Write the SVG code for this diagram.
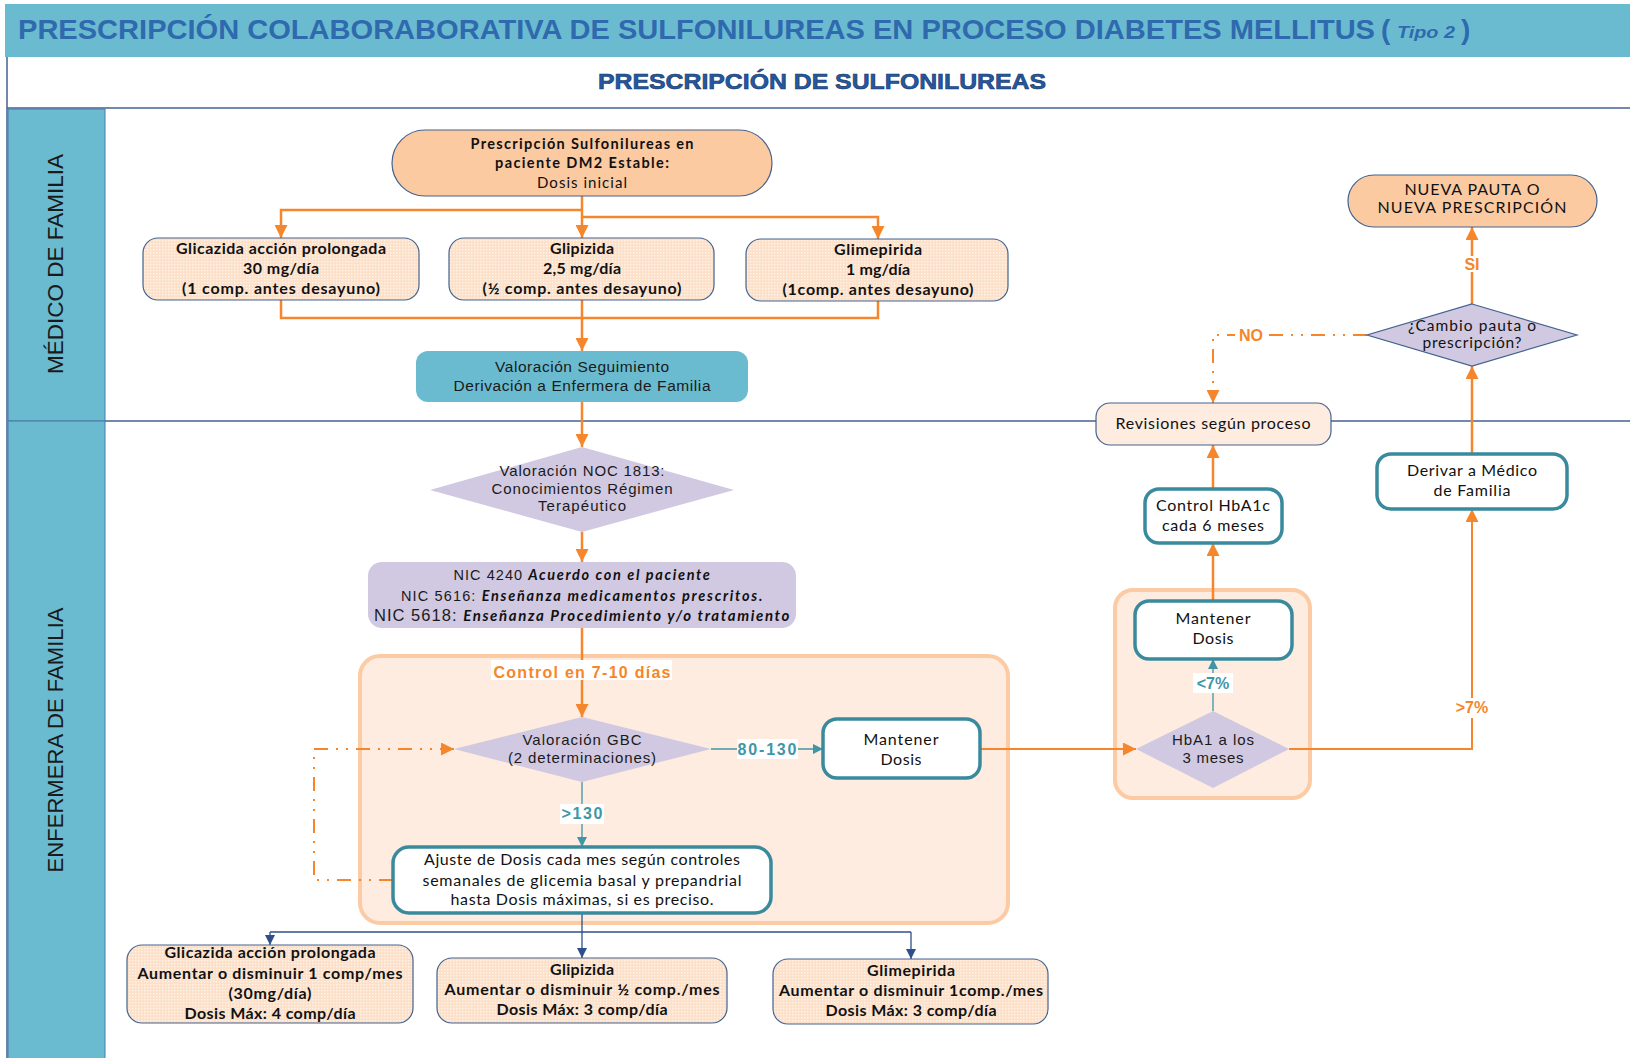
<svg xmlns="http://www.w3.org/2000/svg" width="1630" height="1058" viewBox="0 0 1630 1058">
  <defs>
    <style>
      .lbl { font-family: "Liberation Sans", Arial, sans-serif; fill: #1a1a1a; }
      .cal { font-family: Lato, "Liberation Sans", sans-serif; fill: #111111; }
      .b { font-weight: bold; }
      .or { stroke: #F5862B; stroke-width: 2.5; fill: none; }
      .orthin { stroke: #F5862B; stroke-width: 2; fill: none; }
      .dd { stroke: #F5862B; stroke-width: 2; fill: none; stroke-dasharray: 14 8 2 8 2 8; }
      .tl { stroke: #3F96A6; stroke-width: 1.3; fill: none; }
      .bl { stroke: #2E4F8A; stroke-width: 1.3; fill: none; }
      .peach { fill: #FBCAA1; stroke: #44628F; stroke-width: 1.2; }
      .soft { fill: url(#dots); stroke: #44628F; stroke-width: 1.2; }
      .teal { fill: #ffffff; stroke: #3A8A9E; stroke-width: 3.5; }
      .lav { fill: #D1C9E1; }
      .zone { fill: #FDECDF; stroke: #FCCBA4; stroke-width: 4; }
      .tag { font-family: "Liberation Sans", Arial, sans-serif; font-weight: bold; font-size: 16px; }
    </style>
    <pattern id="dots" width="3" height="3" patternUnits="userSpaceOnUse">
      <rect width="3" height="3" fill="#FCE0C9"/>
      <rect x="0" y="0" width="1.4" height="1.4" fill="#FFF4EA"/>
    </pattern>
    <marker id="ao" viewBox="0 0 10 10" refX="10" refY="5" markerWidth="14" markerHeight="13" markerUnits="userSpaceOnUse" orient="auto">
      <path d="M0,0 L10,5 L0,10 z" fill="#F5862B"/>
    </marker>
    <marker id="at" viewBox="0 0 10 10" refX="10" refY="5" markerWidth="10" markerHeight="10" markerUnits="userSpaceOnUse" orient="auto">
      <path d="M0,0 L10,5 L0,10 z" fill="#3F96A6"/>
    </marker>
    <marker id="ab" viewBox="0 0 10 10" refX="10" refY="5" markerWidth="11" markerHeight="10" markerUnits="userSpaceOnUse" orient="auto">
      <path d="M0,0 L10,5 L0,10 z" fill="#2E4F8A"/>
    </marker>
  </defs>

  <rect x="0" y="0" width="1630" height="1058" fill="#ffffff"/>

  <!-- Header band and title -->
  <g id="header">
    <rect x="5" y="4" width="1625" height="53" fill="#6BBBD0"/>
    <text x="18" y="39" font-family="'Liberation Sans', Arial, sans-serif" font-weight="bold" font-size="28" fill="#2F6AAE" textLength="1357" lengthAdjust="spacingAndGlyphs">PRESCRIPCIÓN COLABORABORATIVA DE SULFONILUREAS EN PROCESO DIABETES MELLITUS</text>
    <text x="1381" y="39" font-family="'Liberation Sans', Arial, sans-serif" font-weight="bold" font-size="28" fill="#2F6AAE">(</text>
    <text x="1397" y="38" font-family="'Liberation Sans', Arial, sans-serif" font-weight="bold" font-style="italic" font-size="17" fill="#2F6AAE" textLength="58" lengthAdjust="spacingAndGlyphs">Tipo 2</text>
    <text x="1461" y="39" font-family="'Liberation Sans', Arial, sans-serif" font-weight="bold" font-size="28" fill="#2F6AAE">)</text>
    <text x="822" y="89" text-anchor="middle" font-family="'Liberation Sans', Arial, sans-serif" font-weight="bold" font-size="22" fill="#2458A4" stroke="#17375E" stroke-width="0.6" textLength="448" lengthAdjust="spacingAndGlyphs">PRESCRIPCIÓN DE SULFONILUREAS</text>
  </g>

  <!-- Swimlanes -->
  <g id="lanes">
    <line x1="7" y1="57" x2="7" y2="1058" stroke="#44628F" stroke-width="1.5"/>
    <line x1="7" y1="108" x2="1630" y2="108" stroke="#44628F" stroke-width="1.3"/>
    <line x1="105" y1="421" x2="1630" y2="421" stroke="#44628F" stroke-width="1.3"/>
    <rect x="8" y="109" width="97" height="312" fill="#6BBBD0" stroke="#4A78AA" stroke-width="1"/>
    <rect x="8" y="421" width="97" height="640" fill="#6BBBD0" stroke="#4A78AA" stroke-width="1"/>
    <text transform="translate(63,264) rotate(-90)" text-anchor="middle" class="lbl" font-size="22" textLength="220" lengthAdjust="spacingAndGlyphs">MÉDICO  DE FAMILIA</text>
    <text transform="translate(63,740) rotate(-90)" text-anchor="middle" class="lbl" font-size="22" textLength="265" lengthAdjust="spacingAndGlyphs">ENFERMERA DE FAMILIA</text>
  </g>

  <!-- Grouping zones -->
  <g id="zone-control">
    <rect class="zone" x="360" y="656" width="648" height="267" rx="20"/>
  </g>
  <g id="zone-hba1">
    <rect class="zone" x="1115" y="590" width="195" height="208" rx="18"/>
  </g>

  <!-- Connectors -->
  <g id="connectors">
    <path class="or" d="M582 196 V238" marker-end="url(#ao)"/>
    <path class="or" d="M582 210 H281 V238" marker-end="url(#ao)"/>
    <path class="or" d="M582 217 H878 V239" marker-end="url(#ao)"/>
    <path class="or" d="M281 300 V318 H878 V301"/>
    <path class="or" d="M582 300 V351" marker-end="url(#ao)"/>
    <path class="or" d="M582 402 V447" marker-end="url(#ao)"/>
    <path class="or" d="M582 532 V562" marker-end="url(#ao)"/>
    <path class="or" d="M582 628 V717" marker-end="url(#ao)"/>
    <path class="dd" d="M393 880 H314 V749 H454" marker-end="url(#ao)"/>
    <path class="tl" d="M711 749 H823" marker-end="url(#at)"/>
    <path class="tl" d="M582 782 V847" marker-end="url(#at)"/>
    <path class="bl" d="M582 913 V958" marker-end="url(#ab)"/>
    <path class="bl" d="M270 932 H911"/>
    <path class="bl" d="M270 932 V945" marker-end="url(#ab)"/>
    <path class="bl" d="M911 932 V959" marker-end="url(#ab)"/>
    <path class="orthin" d="M980 749 H1136" marker-end="url(#ao)"/>
    <path class="tl" d="M1213 711 V659" marker-end="url(#at)"/>
    <path class="or" d="M1213 601 V543" marker-end="url(#ao)"/>
    <path class="or" d="M1213 489 V445" marker-end="url(#ao)"/>
    <path class="orthin" d="M1289 749 H1472 V509" marker-end="url(#ao)"/>
    <path class="or" d="M1472 454 V366" marker-end="url(#ao)"/>
    <path class="or" d="M1472 304 V227" marker-end="url(#ao)"/>
    <path class="dd" d="M1367 335 H1213 V403" marker-end="url(#ao)"/>

    <!-- connector labels -->
    <rect x="491" y="660" width="181" height="20" fill="#ffffff"/>
    <text x="582" y="678" text-anchor="middle" class="tag" fill="#F5862B" textLength="177">Control en 7-10 días</text>
    <rect x="737" y="739" width="61" height="20" fill="#ffffff"/>
    <text x="767" y="755" text-anchor="middle" class="tag" fill="#3F96A6" font-size="17" textLength="59">80-130</text>
    <rect x="560" y="804" width="44" height="20" fill="#ffffff"/>
    <text x="582" y="819" text-anchor="middle" class="tag" fill="#3F96A6" font-size="17" textLength="41">&gt;130</text>
    <rect x="1193" y="673" width="40" height="20" fill="#ffffff"/>
    <text x="1213" y="689" text-anchor="middle" class="tag" fill="#3F96A6" font-size="17.5">&lt;7%</text>
    <rect x="1451" y="698" width="42" height="20" fill="#ffffff"/>
    <text x="1472" y="713" text-anchor="middle" class="tag" fill="#F5862B" font-size="17.5">&gt;7%</text>
    <rect x="1464" y="256" width="16" height="16" fill="#ffffff"/>
    <text x="1472" y="270" text-anchor="middle" class="tag" fill="#F5862B" font-size="14">SI</text>
    <rect x="1235" y="326" width="31" height="18" fill="#ffffff"/>
    <text x="1251" y="341" text-anchor="middle" class="tag" fill="#F5862B" font-size="16">NO</text>
  </g>

  <!-- Physician lane nodes -->
  <g id="n-start">
    <rect class="peach" x="392" y="130" width="380" height="66" rx="33"/>
    <text x="582" y="149" text-anchor="middle" class="cal b" font-size="14.5" textLength="223">Prescripción Sulfonilureas en</text>
    <text x="582" y="168" text-anchor="middle" class="cal b" font-size="14.5" textLength="174">paciente DM2 Estable:</text>
    <text x="582" y="188" text-anchor="middle" class="cal" font-size="15" textLength="90">Dosis inicial</text>
  </g>

  <g id="n-glicazida">
    <rect class="soft" x="143" y="238" width="276" height="62" rx="15"/>
    <text x="281" y="254" text-anchor="middle" class="cal b" font-size="16" textLength="210">Glicazida acción prolongada</text>
    <text x="281" y="274" text-anchor="middle" class="cal b" font-size="16" textLength="76">30 mg/día</text>
    <text x="281" y="294" text-anchor="middle" class="cal b" font-size="16" textLength="198">(1 comp.  antes desayuno)</text>
  </g>

  <g id="n-glipizida">
    <rect class="soft" x="449" y="238" width="265" height="62" rx="15"/>
    <text x="582" y="254" text-anchor="middle" class="cal b" font-size="16" textLength="64">Glipizida</text>
    <text x="582" y="274" text-anchor="middle" class="cal b" font-size="16" textLength="78">2,5 mg/día</text>
    <text x="582" y="294" text-anchor="middle" class="cal b" font-size="16" textLength="199">(½ comp. antes desayuno)</text>
  </g>

  <g id="n-glimepirida">
    <rect class="soft" x="746" y="239" width="262" height="62" rx="15"/>
    <text x="878" y="255" text-anchor="middle" class="cal b" font-size="16" textLength="88">Glimepirida</text>
    <text x="878" y="275" text-anchor="middle" class="cal b" font-size="16" textLength="64">1 mg/día</text>
    <text x="878" y="295" text-anchor="middle" class="cal b" font-size="16" textLength="191">(1comp. antes desayuno)</text>
  </g>

  <g id="n-seguimiento">
    <rect x="416" y="351" width="332" height="51" rx="12" fill="#6BBBD0"/>
    <text x="582" y="372" text-anchor="middle" class="lbl" font-size="15.5" textLength="174">Valoración Seguimiento</text>
    <text x="582" y="391" text-anchor="middle" class="lbl" font-size="15.5" textLength="257">Derivación a Enfermera de Familia</text>
  </g>

  <g id="n-nueva">
    <rect class="peach" x="1348" y="175" width="249" height="52" rx="26"/>
    <text x="1472" y="195" text-anchor="middle" class="cal" font-size="16" textLength="135">NUEVA PAUTA O</text>
    <text x="1472" y="213" text-anchor="middle" class="cal" font-size="16" textLength="189">NUEVA PRESCRIPCIÓN</text>
  </g>

  <g id="n-cambio">
    <polygon points="1472,304 1577,335 1472,366 1367,335" fill="#D1C9E1" stroke="#44628F" stroke-width="1.2"/>
    <text x="1472" y="331" text-anchor="middle" class="cal" font-size="15.5" textLength="128">¿Cambio pauta o</text>
    <text x="1472" y="348" text-anchor="middle" class="cal" font-size="15.5" textLength="99">prescripción?</text>
  </g>

  <g id="n-revisiones">
    <rect x="1096" y="403" width="235" height="42" rx="14" fill="#FDECDF" stroke="#44628F" stroke-width="1.2"/>
    <text x="1213" y="429" text-anchor="middle" class="cal" font-size="16" textLength="195">Revisiones según proceso</text>
  </g>

  <!-- Nurse lane nodes -->
  <g id="n-noc">
    <polygon class="lav" points="582,447 734,490 582,532 430,490"/>
    <text x="582" y="476" text-anchor="middle" class="lbl" font-size="15" textLength="165">Valoración NOC 1813:</text>
    <text x="582" y="494" text-anchor="middle" class="lbl" font-size="15" textLength="181">Conocimientos Régimen</text>
    <text x="582" y="511" text-anchor="middle" class="lbl" font-size="15" textLength="88">Terapéutico</text>
  </g>

  <g id="n-nic">
    <rect class="lav" x="368" y="562" width="428" height="66" rx="14"/>
    <text x="582" y="580" text-anchor="middle" font-size="14.5" textLength="257"><tspan class="lbl">NIC 4240 </tspan><tspan class="cal b" font-style="italic" letter-spacing="0.6">Acuerdo con el paciente</tspan></text>
    <text x="582" y="601" text-anchor="middle" font-size="14.5" textLength="362"><tspan class="lbl">NIC 5616: </tspan><tspan class="cal b" font-style="italic" letter-spacing="0.6">Enseñanza medicamentos prescritos.</tspan></text>
    <text x="582" y="621" text-anchor="middle" font-size="15" textLength="416"><tspan class="lbl" font-size="16.5">NIC 5618: </tspan><tspan class="cal b" font-style="italic" letter-spacing="0.6">Enseñanza Procedimiento y/o tratamiento</tspan></text>
  </g>

  <g id="n-gbc">
    <polygon class="lav" points="582,717 711,749 582,782 454,749"/>
    <text x="582" y="745" text-anchor="middle" class="lbl" font-size="15" textLength="119">Valoración GBC</text>
    <text x="582" y="763" text-anchor="middle" class="lbl" font-size="15" textLength="148">(2 determinaciones)</text>
  </g>

  <g id="n-mantener1">
    <rect class="teal" x="823" y="719" width="157" height="59" rx="14"/>
    <text x="901" y="745" text-anchor="middle" class="cal" font-size="16" textLength="75">Mantener</text>
    <text x="901" y="765" text-anchor="middle" class="cal" font-size="16" textLength="41">Dosis</text>
  </g>

  <g id="n-ajuste">
    <rect class="teal" x="393" y="847" width="378" height="66" rx="16"/>
    <text x="582" y="865" text-anchor="middle" class="cal" font-size="16" textLength="316">Ajuste de Dosis cada mes según controles</text>
    <text x="582" y="886" text-anchor="middle" class="cal" font-size="16" textLength="319">semanales de glicemia basal y prepandrial</text>
    <text x="582" y="905" text-anchor="middle" class="cal" font-size="16" textLength="263">hasta Dosis máximas, si es preciso.</text>
  </g>

  <g id="n-glicazida-ajuste">
    <rect class="soft" x="127" y="945" width="286" height="78" rx="15"/>
    <text x="270" y="958" text-anchor="middle" class="cal b" font-size="16" textLength="211">Glicazida acción prolongada</text>
    <text x="270" y="979" text-anchor="middle" class="cal b" font-size="16" textLength="265">Aumentar o disminuir 1 comp/mes</text>
    <text x="270" y="999" text-anchor="middle" class="cal b" font-size="16" textLength="83">(30mg/día)</text>
    <text x="270" y="1019" text-anchor="middle" class="cal b" font-size="16" textLength="171">Dosis Máx: 4 comp/día</text>
  </g>

  <g id="n-glipizida-ajuste">
    <rect class="soft" x="437" y="958" width="290" height="65" rx="15"/>
    <text x="582" y="975" text-anchor="middle" class="cal b" font-size="16" textLength="64">Glipizida</text>
    <text x="582" y="995" text-anchor="middle" class="cal b" font-size="16" textLength="275">Aumentar o disminuir  ½ comp./mes</text>
    <text x="582" y="1015" text-anchor="middle" class="cal b" font-size="16" textLength="171">Dosis Máx: 3 comp/día</text>
  </g>

  <g id="n-glimepirida-ajuste">
    <rect class="soft" x="773" y="959" width="275" height="65" rx="15"/>
    <text x="911" y="976" text-anchor="middle" class="cal b" font-size="16" textLength="88">Glimepirida</text>
    <text x="911" y="996" text-anchor="middle" class="cal b" font-size="16" textLength="264">Aumentar o disminuir 1comp./mes</text>
    <text x="911" y="1016" text-anchor="middle" class="cal b" font-size="16" textLength="171">Dosis Máx: 3 comp/día</text>
  </g>

  <g id="n-hba1">
    <polygon class="lav" points="1213,711 1289,749 1213,788 1136,749"/>
    <text x="1213" y="745" text-anchor="middle" class="lbl" font-size="15" textLength="82">HbA1 a los</text>
    <text x="1213" y="763" text-anchor="middle" class="lbl" font-size="15" textLength="61">3 meses</text>
  </g>

  <g id="n-mantener2">
    <rect class="teal" x="1135" y="601" width="157" height="58" rx="14"/>
    <text x="1213" y="624" text-anchor="middle" class="cal" font-size="16" textLength="75">Mantener</text>
    <text x="1213" y="644" text-anchor="middle" class="cal" font-size="16" textLength="41">Dosis</text>
  </g>

  <g id="n-control">
    <rect class="teal" x="1145" y="489" width="137" height="54" rx="14"/>
    <text x="1213" y="511" text-anchor="middle" class="cal" font-size="16" textLength="114">Control  HbA1c</text>
    <text x="1213" y="531" text-anchor="middle" class="cal" font-size="16" textLength="102">cada 6 meses</text>
  </g>

  <g id="n-derivar">
    <rect class="teal" x="1377" y="454" width="190" height="55" rx="14"/>
    <text x="1472" y="476" text-anchor="middle" class="cal" font-size="16" textLength="130">Derivar a Médico</text>
    <text x="1472" y="496" text-anchor="middle" class="cal" font-size="16" textLength="77">de Familia</text>
  </g>
</svg>
